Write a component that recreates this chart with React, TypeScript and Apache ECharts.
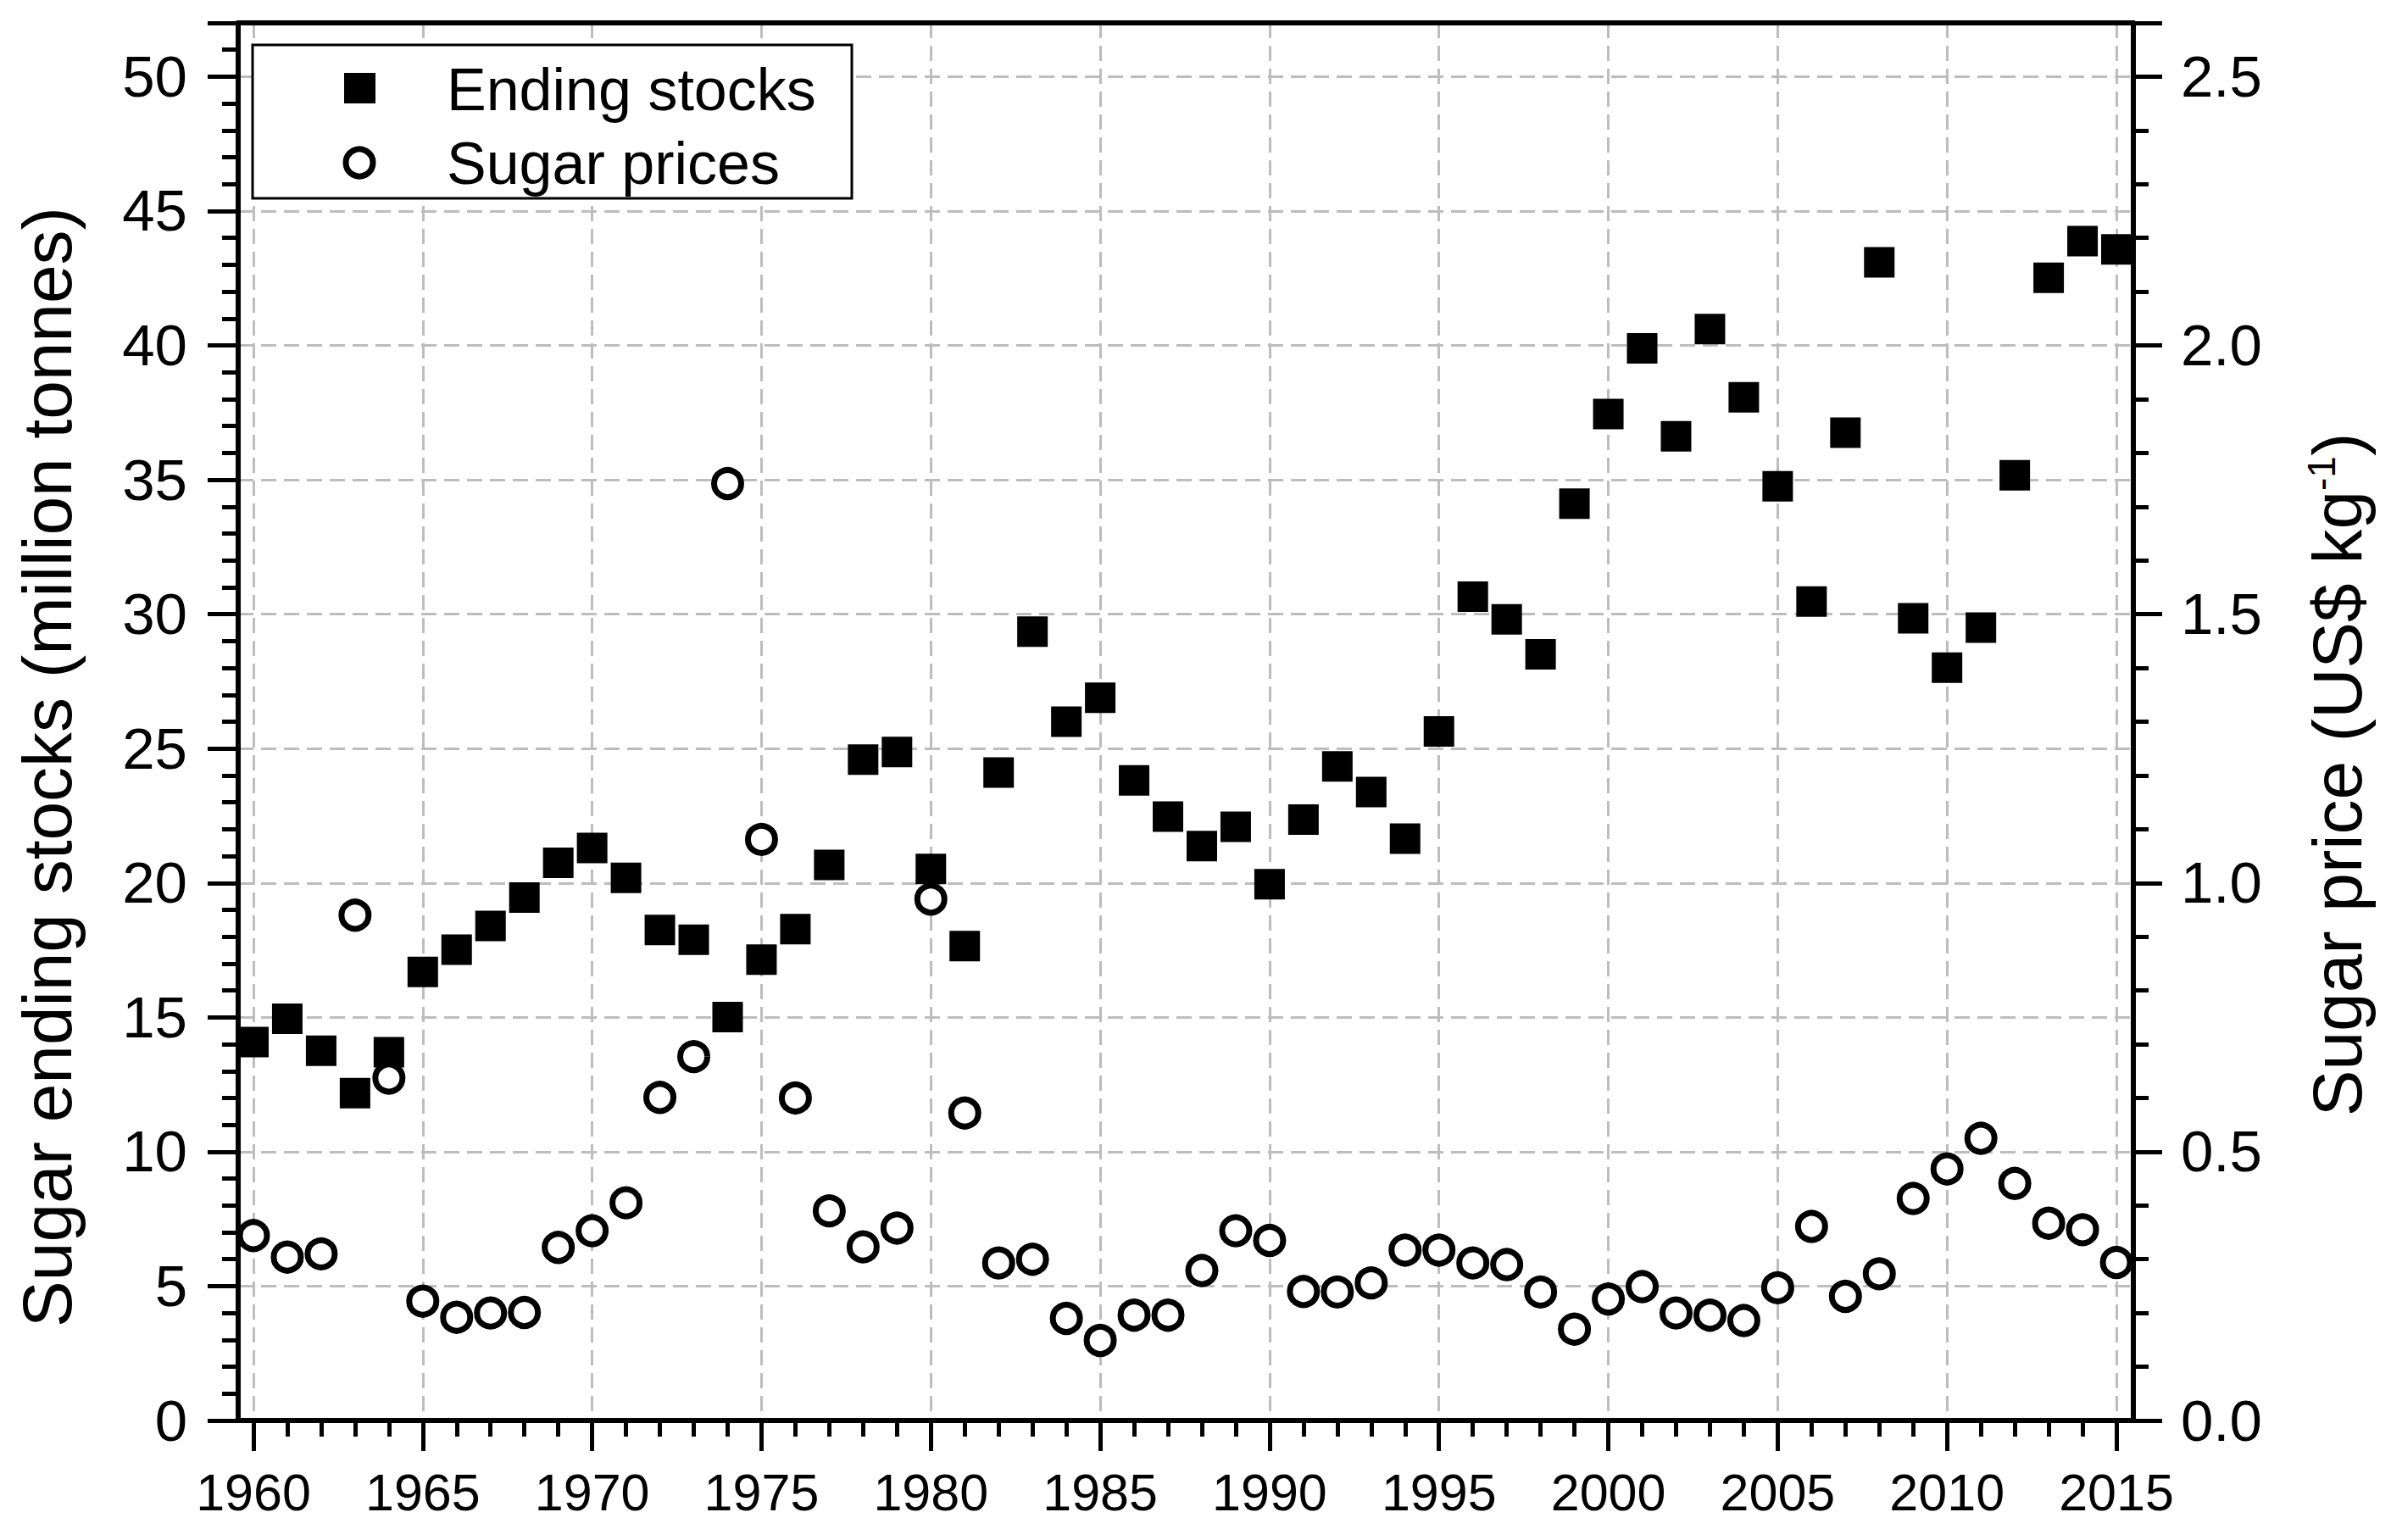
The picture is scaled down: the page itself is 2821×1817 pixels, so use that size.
import React, { useEffect, useRef } from 'react';
import * as echarts from 'echarts';

const years = [
  1960, 1961, 1962, 1963, 1964, 1965, 1966, 1967, 1968, 1969,
  1970, 1971, 1972, 1973, 1974, 1975, 1976, 1977, 1978, 1979,
  1980, 1981, 1982, 1983, 1984, 1985, 1986, 1987, 1988, 1989,
  1990, 1991, 1992, 1993, 1994, 1995, 1996, 1997, 1998, 1999,
  2000, 2001, 2002, 2003, 2004, 2005, 2006, 2007, 2008, 2009,
  2010, 2011, 2012, 2013, 2014, 2015,
];

// Sugar ending stocks (million tonnes)
const endingStocks = [
  14.08, 14.95, 13.76, 12.18, 13.7, 16.69, 17.52, 18.4, 19.46, 20.75,
  21.3, 20.19, 18.25, 17.89, 15.01, 17.15, 18.28, 20.67, 24.59, 24.87,
  20.52, 17.65, 24.11, 29.35, 26.0, 26.89, 23.82, 22.47, 21.37, 22.09,
  19.95, 22.36, 24.34, 23.38, 21.65, 25.64, 30.65, 29.81, 28.51, 34.11,
  37.45, 39.89, 36.62, 40.61, 38.07, 34.76, 30.47, 36.75, 43.09, 29.85,
  28.01, 29.5, 35.17, 42.52, 43.88, 43.57,
];

// Sugar price (US$ per kg)
const sugarPrices = [
  0.344, 0.304, 0.31, 0.94, 0.637, 0.222, 0.192, 0.2, 0.201, 0.322,
  0.353, 0.405, 0.601, 0.677, 1.743, 1.081, 0.6, 0.39, 0.323, 0.358,
  0.97, 0.572, 0.293, 0.3, 0.19, 0.149, 0.196, 0.196, 0.279, 0.353,
  0.335, 0.24, 0.239, 0.256, 0.317, 0.317, 0.293, 0.29, 0.239, 0.17,
  0.226, 0.249, 0.2, 0.196, 0.186, 0.247, 0.361, 0.231, 0.273, 0.413,
  0.468, 0.525, 0.441, 0.367, 0.355, 0.294,
];

const xTickYears = [1960, 1965, 1970, 1975, 1980, 1985, 1990, 1995, 2000, 2005, 2010, 2015];

const FONT = 'Liberation Sans, Arial, Helvetica, sans-serif';
const GRID_LINE = { show: true, lineStyle: { color: '#bdbdbd', width: 3, type: [18, 9] as any } };

export default function App() {
  const ref = useRef<HTMLDivElement>(null);

  useEffect(() => {
    if (!ref.current) return;
    const chart = echarts.init(ref.current, undefined, { renderer: 'svg' });

    const axisLine = { show: true, onZero: false, lineStyle: { color: '#000', width: 6 } };
    const axisTick = { show: true, inside: false, length: 36, lineStyle: { color: '#000', width: 5 } };
    const minorTick = { show: true, splitNumber: 5, length: 19, lineStyle: { color: '#000', width: 5 } };

    chart.setOption({
      animation: false,
      backgroundColor: '#fff',
      grid: { left: 281, right: 304, top: 27, bottom: 141, containLabel: false },
      xAxis: [
        {
          type: 'value',
          min: 1959.55,
          max: 2015.5,
          minInterval: 5,
          maxInterval: 5,
          position: 'bottom',
          axisLine,
          axisTick: { ...axisTick, customValues: xTickYears },
          minorTick,
          axisLabel: {
            customValues: xTickYears,
            margin: 54,
            fontFamily: FONT,
            fontSize: 61,
            color: '#000',
            formatter: (v: number) => String(v),
          },
          splitLine: GRID_LINE,
        },
        {
          type: 'value',
          min: 1959.55,
          max: 2015.5,
          position: 'top',
          z: 5,
          axisLine,
          axisTick: { show: false },
          axisLabel: { show: false },
          splitLine: { show: false },
        },
      ],
      yAxis: [
        {
          type: 'value',
          min: 0,
          max: 52,
          interval: 5,
          position: 'left',
          axisLine,
          axisTick,
          minorTick,
          axisLabel: {
            margin: 60,
            fontFamily: FONT,
            fontSize: 69,
            color: '#000',
            formatter: (v: number) => (v > 50 ? '' : String(v)),
          },
          splitLine: GRID_LINE,
        },
        {
          type: 'value',
          min: 0,
          max: 2.6,
          interval: 0.5,
          position: 'right',
          z: 4,
          axisLine,
          axisTick: { ...axisTick, length: 34 },
          minorTick: { ...minorTick, length: 18 },
          axisLabel: {
            margin: 56,
            fontFamily: FONT,
            fontSize: 69,
            color: '#000',
            formatter: (v: number) => (v > 2.5 ? '' : v.toFixed(1)),
          },
          splitLine: { show: false },
        },
      ],
      series: [
        {
          name: 'Ending stocks',
          type: 'scatter',
          xAxisIndex: 0,
          yAxisIndex: 0,
          symbol: 'rect',
          symbolSize: 36,
          clip: false,
          itemStyle: { color: '#000', opacity: 1 },
          emphasis: { disabled: true },
          data: years.map((y, i) => [y, endingStocks[i]]),
        },
        {
          name: 'Sugar prices',
          type: 'scatter',
          xAxisIndex: 0,
          yAxisIndex: 1,
          symbol: 'circle',
          symbolSize: 32,
          clip: false,
          itemStyle: { color: '#fff', borderColor: '#000', borderWidth: 7, opacity: 1 },
          emphasis: { disabled: true },
          data: years.map((y, i) => [y, sugarPrices[i]]),
        },
      ],
      graphic: [
        {
          type: 'rect',
          z: 20,
          shape: { x: 298, y: 53, width: 707, height: 181 },
          style: { fill: '#fff', stroke: '#000', lineWidth: 3 },
        },
        {
          type: 'rect',
          z: 21,
          shape: { x: 406, y: 86, width: 37, height: 36 },
          style: { fill: '#000' },
        },
        {
          type: 'circle',
          z: 21,
          shape: { cx: 424, cy: 192, r: 16 },
          style: { fill: '#fff', stroke: '#000', lineWidth: 7 },
        },
        {
          type: 'text',
          z: 21,
          x: 527,
          y: 106,
          style: { text: 'Ending stocks', fontFamily: FONT, fontSize: 70, fill: '#000', align: 'left', verticalAlign: 'middle' },
        },
        {
          type: 'text',
          z: 21,
          x: 527,
          y: 193,
          style: { text: 'Sugar prices', fontFamily: FONT, fontSize: 70, fill: '#000', align: 'left', verticalAlign: 'middle' },
        },
        {
          type: 'text',
          z: 21,
          x: 55,
          y: 905,
          rotation: Math.PI / 2,
          style: {
            text: 'Sugar ending stocks (million tonnes)',
            fontFamily: FONT,
            fontSize: 82,
            fill: '#000',
            align: 'center',
            verticalAlign: 'middle',
          },
        },
        {
          type: 'text',
          z: 21,
          x: 2757,
          y: 914,
          rotation: Math.PI / 2,
          style: {
            text: '{a|Sugar price (US$ kg}{s|-1}{a|)}',
            fill: '#000',
            align: 'center',
            verticalAlign: 'middle',
            rich: {
              a: { fontFamily: FONT, fontSize: 82, fill: '#000' },
              s: { fontFamily: FONT, fontSize: 46, fill: '#000', verticalAlign: 'top' },
            },
          },
        },
      ],
    });

    return () => {
      chart.dispose();
    };
  }, []);

  return (
    <div
      ref={ref}
      style={{ position: 'absolute', left: 0, top: 0, width: 2821, height: 1817, background: '#fff' }}
    />
  );
}
